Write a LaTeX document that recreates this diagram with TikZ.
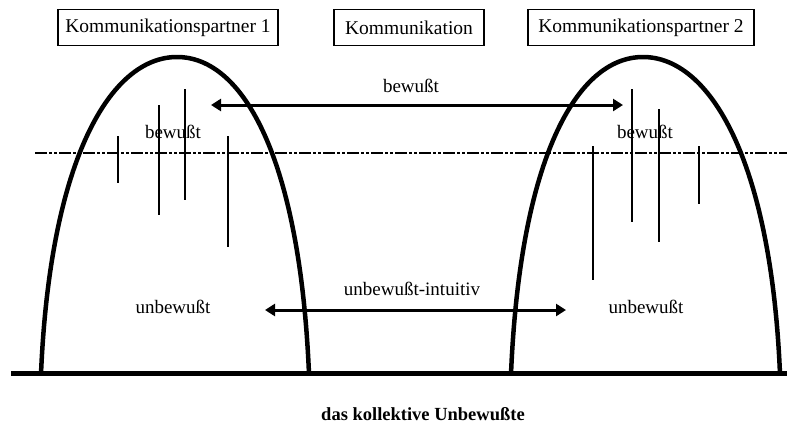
\documentclass[tikz,border=0pt]{standalone}
\usepackage{fontspec}
\setmainfont{Liberation Serif}
\usetikzlibrary{arrows.meta}
\begin{document}
\begin{tikzpicture}[x=1pt,y=-1pt,
  titlebox/.style={draw,line width=1.8pt,minimum height=36pt,inner sep=0pt,font=\fontsize{19.5}{21}\selectfont},
  lbl/.style={inner sep=0pt,font=\fontsize{19}{21}\selectfont},
  dome/.style={line width=4.5pt,line join=round},
  tick/.style={line width=1.4pt},
  arr/.style={line width=3pt,{Triangle[length=10pt,width=12pt]}-{Triangle[length=10pt,width=12pt]}}]
\useasboundingbox (0,0) rectangle (787,426);
% title boxes
\node[titlebox,minimum width=220pt] (p1) at (168,27.5) {Kommunikationspartner 1};
\node[titlebox,minimum width=150pt] (k) at (409,27.5) {Kommunikation};
\node[titlebox,minimum width=226pt] (p2) at (641,27.5) {Kommunikationspartner 2};
% base line
\coordinate (b1) at (11,373);
\coordinate (b2) at (787,373);
\draw[line width=5pt] (b1) -- (b2);
% dash-dot line
\coordinate (d1) at (35,153);
\coordinate (d2) at (787,153);
\draw[line width=2.4pt,dash pattern=on 12pt off 2pt on 3pt off 2pt on 3pt off 2pt] (d1) -- (d2);
% domes
\draw[dome] (41,374) .. controls (50,160) and (110,57) .. (177,57) .. controls (244,57) and (300,160) .. (309,374);
\draw[dome] (511,374) .. controls (520,160) and (576,57) .. (643,57) .. controls (710,57) and (771,160) .. (780,374);
% vertical ticks dome 1
\draw[tick] (118,136) -- (118,183);
\draw[tick] (159,105) -- (159,215);
\draw[tick] (185,89) -- (185,200);
\draw[tick] (228,136) -- (228,247);
% vertical ticks dome 2
\draw[tick] (593,146) -- (593,280);
\draw[tick] (632,89) -- (632,222);
\draw[tick] (659,109) -- (659,242);
\draw[tick] (699,146) -- (699,204);
% arrows
\coordinate (a1) at (211,105);
\coordinate (a2) at (623,105);
\draw[arr] (a1) -- (a2);
\coordinate (c1) at (265,310);
\coordinate (c2) at (566,310);
\draw[arr] (c1) -- (c2);
% labels
\node[lbl] (l1) at (411,86) {bewußt};
\node[lbl] (l2) at (412,289) {unbewußt-intuitiv};
\node[lbl] (b1l) at (173,132) {bewußt};
\node[lbl] (b2l) at (645,132) {bewußt};
\node[lbl] (u1) at (173,307) {unbewußt};
\node[lbl] (u2) at (646,307) {unbewußt};
\node[lbl,font=\bfseries\fontsize{18.5}{20}\selectfont] (cu) at (423,414) {das kollektive Unbewußte};
\end{tikzpicture}
\end{document}
